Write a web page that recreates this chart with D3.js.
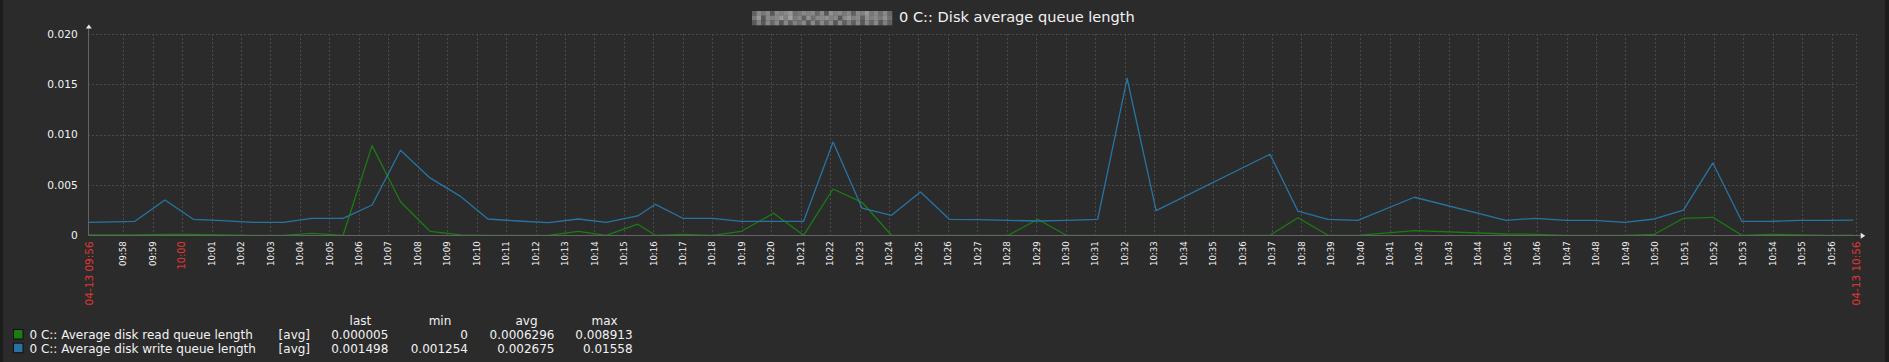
<!DOCTYPE html>
<html>
<head>
<meta charset="utf-8">
<script src="https://cdn.jsdelivr.net/npm/d3@7"></script>
<style>
  html, body { margin: 0; padding: 0; background: #1c1c1c; }
  svg { display: block; font-family: "DejaVu Sans", sans-serif; }
</style>
</head>
<body>
<svg id="chart" width="1889" height="362"></svg>
<script>
// sample times (2024-04-13) and values
const times = [
  '09:56:50', '09:58:24', '09:59:25', '10:00:23', '10:01:23', '10:02:25', '10:03:26',
  '10:04:24', '10:05:28', '10:06:27', '10:07:25', '10:08:25', '10:09:28', '10:10:23',
  '10:11:24', '10:12:26', '10:13:27', '10:14:24', '10:15:28', '10:16:04', '10:17:00',
  '10:18:01', '10:18:59', '10:20:05', '10:21:06', '10:22:06', '10:23:05', '10:24:05',
  '10:25:04', '10:26:03', '10:27:02', '10:28:03', '10:29:03', '10:30:01', '10:31:05',
  '10:32:05', '10:33:04', '10:36:56', '10:37:53', '10:38:54', '10:39:55', '10:41:50',
  '10:44:57', '10:45:57', '10:46:59', '10:47:58', '10:48:58', '10:49:59', '10:50:58',
  '10:51:58', '10:52:57', '10:53:56', '10:54:57', '10:55:58', '10:56:44'
]

const readQueue = [
  0.00004, 0.00004, 0.0001, 0.0001, 0.00005, 0, 0,
  0.0002, 0, 0.008913, 0.00334, 0.0004, 0.00005, 0,
  0, 0, 0.0004, 0, 0.0011, 0, 0.0001,
  0, 0.0004, 0.00219, 0, 0.0046, 0.00328, 0,
  0, 0, 0, 0, 0.00159, 0, 0,
  0, 0, 0, 0.00175, 0, 0, 0.00046,
  0.00013, 0.0001, 0, 0, 0, 0.0001, 0.00169,
  0.00179, 0, 0.0001, 0.00005, 0, 0.000005
]

const writeQueue = [
  0.00129, 0.00139, 0.00351, 0.00159, 0.00145, 0.00128, 0.00128,
  0.00169, 0.00169, 0.00301, 0.00845, 0.0057, 0.00384, 0.00162,
  0.00142, 0.001254, 0.00162, 0.00129, 0.00192, 0.00308, 0.00169,
  0.00169, 0.00139, 0.00139, 0.00139, 0.00927, 0.00271, 0.00199,
  0.0043, 0.00159, 0.00155, 0.00149, 0.00142, 0.00149, 0.00159,
  0.01558, 0.00245, 0.00805, 0.00239, 0.00159, 0.00149, 0.00378,
  0.00149, 0.00169, 0.00149, 0.00149, 0.00128, 0.00162, 0.00251,
  0.00719, 0.00139, 0.00139, 0.00149, 0.00149, 0.001498
]

const yTicks = [0, 0.005, 0.01, 0.015, 0.02]
const yTickLabels = ['0', '0.005', '0.010', '0.015', '0.020']
const periodStart = '2024-04-13 09:56:49'
const periodEnd = '2024-04-13 10:56:49'

const seriesNames = [
  '0 C:: Average disk read queue length',
  '0 C:: Average disk write queue length'
]
const seriesColors = ['#1a7c11', '#2774a4']
const legendHeaders = ['last', 'min', 'avg', 'max']
const legendStats = [
  ['0.000005', '0', '0.0006296', '0.008913'],
  ['0.001498', '0.001254', '0.002675', '0.01558']
]

const titleText = '0 C:: Disk average queue length'

// ---- layout
const width = 1889
const height = 362
const plotLeft = 88.3
const plotRight = 1855.7
const plotTop = 34
const plotBottom = 235.3

const bg = '#2b2b2b'
const gridColor = '#4a4a4a'
const axisColor = '#636363'
const textColor = '#f2f2f2'
const highlight = '#e33734'

const parse = d3.timeParse('%Y-%m-%d %H:%M:%S')
const day = '2024-04-13 '

const svg = d3.select('#chart')

svg.append('rect')
  .attr('x', 3)
  .attr('width', 1882)
  .attr('height', height)
  .attr('fill', bg)

const x = d3.scaleTime()
  .domain([parse(periodStart), parse(periodEnd)])
  .range([plotLeft, plotRight])

const y = d3.scaleLinear()
  .domain([0, 0.02])
  .range([plotBottom, plotTop])

// title with the pixelated host name in front of it
svg.append('text')
  .attr('x', 899)
  .attr('y', 22)
  .attr('font-size', 14.6)
  .attr('fill', textColor)
  .text(titleText)

const pixelShades = [
  '5a8a4a9ac78a9a6a4b9a8a5a9c8a7a6',
  '8c4a9ac9d8a5b7aab9a4ac9a5b9a8b7',
  '494a6a4a597a4a5a6a4a595a4a6a495'
]
const blockW = 140 / 31
pixelShades.forEach((row, r) => {
  row.split('').forEach((c, i) => {
    const v = 0x38 + parseInt(c, 16) * 8
    svg.append('rect')
      .attr('x', 752 + i * blockW)
      .attr('y', 11 + r * 4.7)
      .attr('width', blockW + 0.3)
      .attr('height', 4.9)
      .attr('fill', d3.rgb(v, v, v))
  })
})

// grid
const minuteTicks = d3.timeMinute.range(
  d3.timeMinute.offset(d3.timeMinute.floor(x.domain()[0]), 2),
  x.domain()[1]
)

const grid = svg.append('g')
  .attr('stroke', gridColor)
  .attr('stroke-dasharray', '2,2')
  .attr('shape-rendering', 'crispEdges')

grid.selectAll('.vgrid')
  .data(minuteTicks.concat([x.domain()[1]]))
  .join('line')
  .attr('x1', d => Math.round(x(d)) + 0.5)
  .attr('x2', d => Math.round(x(d)) + 0.5)
  .attr('y1', plotTop)
  .attr('y2', plotBottom)

grid.selectAll('.hgrid')
  .data(yTicks.slice(1))
  .join('line')
  .attr('x1', plotLeft)
  .attr('x2', plotRight)
  .attr('y1', d => Math.round(y(d)) + 0.5)
  .attr('y2', d => Math.round(y(d)) + 0.5)

// series
const points = times.map((t, i) => ({
  date: parse(day + t),
  read: readQueue[i],
  write: writeQueue[i]
}))

svg.append('clipPath')
  .attr('id', 'plot-clip')
  .append('rect')
  .attr('x', plotLeft)
  .attr('y', plotTop - 2)
  .attr('width', plotRight - plotLeft)
  .attr('height', plotBottom - plotTop + 2)

const lines = svg.append('g').attr('clip-path', 'url(#plot-clip)')

;['read', 'write'].forEach((key, i) => {
  lines.append('path')
    .datum(points)
    .attr('fill', 'none')
    .attr('stroke', seriesColors[i])
    .attr('stroke-width', 1.3)
    .attr('stroke-linejoin', 'round')
    .attr('d', d3.line().x(d => x(d.date)).y(d => y(d[key])))
})

// axes
const axes = svg.append('g').attr('stroke', axisColor)
axes.append('line')
  .attr('x1', Math.round(plotLeft) + 0.5)
  .attr('x2', Math.round(plotLeft) + 0.5)
  .attr('y1', plotBottom)
  .attr('y2', plotTop - 7)
axes.append('line')
  .attr('x1', plotLeft)
  .attr('x2', plotRight + 6)
  .attr('y1', Math.round(plotBottom) + 0.5)
  .attr('y2', Math.round(plotBottom) + 0.5)

svg.append('path')
  .attr('fill', '#e6e6e6')
  .attr('d', `M${plotLeft - 2.5},${plotTop - 5.5} L${plotLeft + 0.5},${plotTop - 9.5} L${plotLeft + 3.5},${plotTop - 5.5} Z`)
svg.append('path')
  .attr('fill', '#e6e6e6')
  .attr('d', `M${plotRight + 5},${plotBottom - 2.5} L${plotRight + 9.5},${plotBottom + 0.5} L${plotRight + 5},${plotBottom + 3.5} Z`)

// y labels
svg.append('g')
  .selectAll('text')
  .data(yTicks)
  .join('text')
  .attr('x', 77.7)
  .attr('y', d => y(d))
  .attr('dy', '0.36em')
  .attr('text-anchor', 'end')
  .attr('font-size', 10.6)
  .attr('fill', textColor)
  .text((d, i) => yTickLabels[i])

// x labels
const fmtMinute = d3.timeFormat('%H:%M')
const fmtFull = d3.timeFormat('%m-%d %H:%M')

svg.append('g')
  .selectAll('text')
  .data(minuteTicks)
  .join('text')
  .attr('transform', d => `translate(${x(d) + 3.2},${plotBottom + 6}) rotate(-90)`)
  .attr('text-anchor', 'end')
  .attr('font-size', d => d.getMinutes() === 0 ? 9.8 : 8.6)
  .attr('fill', d => d.getMinutes() === 0 ? highlight : textColor)
  .text(fmtMinute)

svg.append('g')
  .selectAll('text')
  .data(x.domain())
  .join('text')
  .attr('transform', d => `translate(${x(d) + 4.5},${plotBottom + 6}) rotate(-90)`)
  .attr('text-anchor', 'end')
  .attr('font-size', 10.5)
  .attr('fill', highlight)
  .text(fmtFull)

// legend
const colRight = [388.4, 468, 554.5, 632.6]
const legend = svg.append('g')
  .attr('font-size', 12)
  .attr('fill', textColor)

legend.selectAll('.head')
  .data(legendHeaders)
  .join('text')
  .attr('x', (d, i) => colRight[i] - 28)
  .attr('y', 325)
  .attr('text-anchor', 'middle')
  .text(d => d)

seriesNames.forEach((name, i) => {
  const rowY = 339 + i * 13.7
  legend.append('rect')
    .attr('x', 13.5)
    .attr('y', rowY - 9.5)
    .attr('width', 9.5)
    .attr('height', 9.5)
    .attr('fill', seriesColors[i])
    .attr('stroke', '#111')
  legend.append('text')
    .attr('x', 29.5)
    .attr('y', rowY)
    .text(name)
  legend.append('text')
    .attr('x', 278.6)
    .attr('y', rowY)
    .text('[avg]')
  legend.selectAll('.stat' + i)
    .data(legendStats[i])
    .join('text')
    .attr('x', (d, j) => colRight[j])
    .attr('y', rowY)
    .attr('text-anchor', 'end')
    .text(d => d)
})
</script>
</body>
</html>
